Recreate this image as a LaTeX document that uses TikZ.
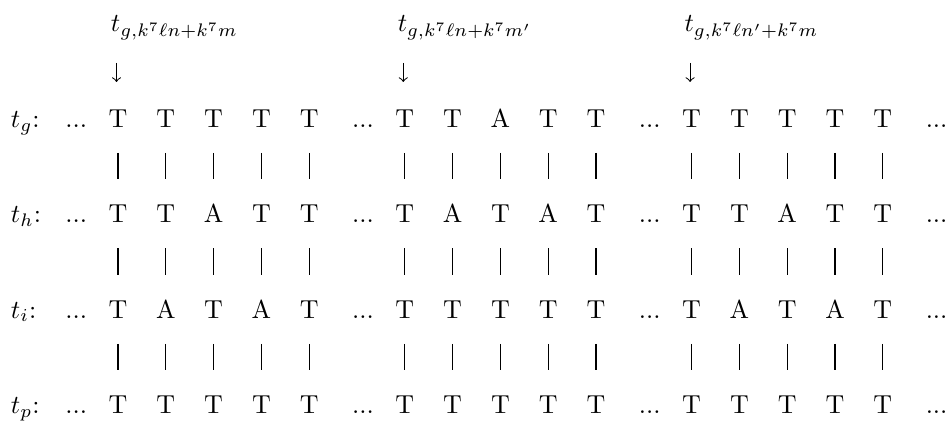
\documentclass[tikz,border=0pt]{standalone}
\usetikzlibrary{arrows.meta}
\begin{document}
\begin{tikzpicture}[x=0.385pt,y=-0.385pt,
  base/.style={inner sep=0pt,outer sep=0pt},
  letter/.style={base,text height=6.83pt,text depth=0pt},
  dotsnode/.style={base,anchor=base},
  rowlabel/.style={base,anchor=base west},
  header/.style={base,anchor=base west},
  link/.style={line width=0.4pt,shorten <=9.9pt,shorten >=9.9pt},
  pointer/.style={line width=0.4pt,-to,shorten >=10.6pt}
]
\useasboundingbox (0,0) rectangle (952,422);

% grid: column c at x = 118 + 47.8 c, row r (letters) at y = 118.4 + 95.4 r
\def\cx#1{118+47.8*(#1)}

% the four sequences
\foreach \r/\nm/\lab/\seq in {
  0/g/{t_g}/{T,T,T,T,T,T,T,A,T,T,T,T,T,T,T},
  1/h/{t_h}/{T,T,A,T,T,T,A,T,A,T,T,T,A,T,T},
  2/i/{t_i}/{T,A,T,A,T,T,T,T,T,T,T,A,T,A,T},
  3/p/{t_p}/{T,T,T,T,T,T,T,T,T,T,T,T,T,T,T}}{
  \pgfmathsetmacro\ry{118.4+95.4*\r}
  \pgfmathsetmacro\by{\ry+8.9}
  \node[rowlabel] (\nm-lab) at (11,\by) {$\lab$:};
  \foreach \ch [count=\k from 0] in \seq {
    \pgfmathtruncatemacro\c{\k+int(\k/5)}
    \node[letter] (\nm-\c) at ({\cx{\c}},\ry) {\ch};
  }
  \foreach \c/\j in {-1/0,5/1,11/2,17/3}
    \node[dotsnode] (\nm-e\j) at ({\cx{\c}+6},\by) {$...$};
}

% vertical links between rows
\foreach \a/\b in {g/h,h/i,i/p}
  \foreach \c in {0,1,2,3,4,6,7,8,9,10,12,13,14,15,16}
    \draw[link] (\a-\c) -- (\b-\c);

% position labels with their pointers
\foreach \c/\j/\txt in {
  0/1/{t_{g,k^7\ell n+k^7m}},
  6/2/{t_{g,k^7\ell n+k^7m'}},
  12/3/{t_{g,k^7\ell n'+k^7m}}}{
  \node[header] (hdr\j) at ({\cx{\c}-7},31.9) {$\txt$};
  \coordinate (top\j) at ({\cx{\c}-1.5},63);
  \draw[pointer] (top\j) -- (top\j |- g-\c.north);
}
\end{tikzpicture}
\end{document}
